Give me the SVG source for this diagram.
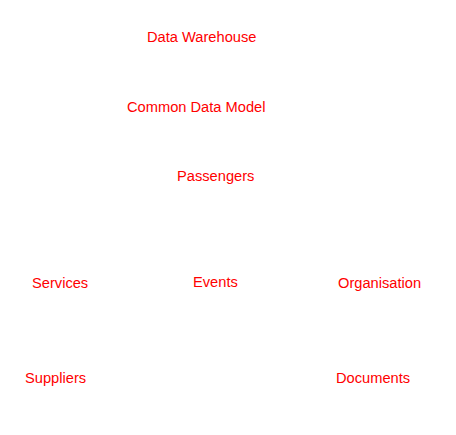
<svg xmlns="http://www.w3.org/2000/svg" width="456" height="435" viewBox="0 0 456 435">
<style>
.lbl{font-family:"Liberation Sans",Arial,sans-serif;font-size:14.67px;fill:#ff0000}
</style>
<rect width="456" height="435" fill="#ffffff"/>
<g id="connectors"></g>
<g id="data-warehouse"><text class="lbl" x="147" y="42">Data Warehouse</text></g>
<g id="common-data-model"><text class="lbl" x="127" y="111.5">Common Data Model</text></g>
<g id="passengers"><text class="lbl" x="177" y="180.5">Passengers</text></g>
<g id="services"><text class="lbl" x="32" y="288">Services</text></g>
<g id="events"><text class="lbl" x="193" y="287">Events</text></g>
<g id="organisation"><text class="lbl" x="338" y="288">Organisation</text></g>
<g id="suppliers"><text class="lbl" x="25" y="383">Suppliers</text></g>
<g id="documents"><text class="lbl" x="336" y="383">Documents</text></g>
</svg>
